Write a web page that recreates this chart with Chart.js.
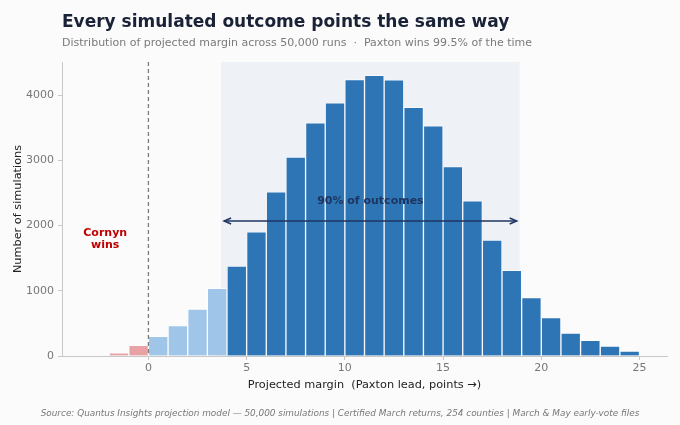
<!DOCTYPE html>
<html>
<head>
<meta charset="utf-8">
<script src="https://cdn.jsdelivr.net/npm/chart.js@4.4.1/dist/chart.umd.min.js"></script>
<style>
  html, body { margin: 0; padding: 0; background: #fbfbfb; }
  #wrap { width: 680px; height: 425px; position: relative; }
</style>
</head>
<body>
<div id="wrap"><canvas id="c" width="680" height="425"></canvas></div>
<script>
// ---- data ----
const binStarts = [-2,-1,0,1,2,3,4,5,6,7,8,9,10,11,12,13,14,15,16,17,18,19,20,21,22,23,24];
const binCounts = [50,164,302,466,720,1037,1379,1906,2519,3050,3577,3883,4240,4307,4236,3816,3531,2907,2381,1778,1313,895,588,352,240,153,77];
const xTickValues = [0,5,10,15,20,25];
const yTickValues = [0,1000,2000,3000,4000];
const p5 = 3.7, p95 = 18.9;
const bandLabel = '90% of outcomes';
const bandLabelY = 2370, bandArrowY = 2070;
const cornynLabel = ['Cornyn', 'wins'];
const cornynX = -2.2, cornynY = 1800;
const titleText = 'Every simulated outcome points the same way';
const subtitleText = 'Distribution of projected margin across 50,000 runs  \u00b7  Paxton wins 99.5% of the time';
const footerText = 'Source: Quantus Insights projection model \u2014 50,000 simulations | Certified March returns, 254 counties | March & May early-vote files';
const xTitle = 'Projected margin  (Paxton lead, points \u2192)';
const yTitle = 'Number of simulations';

const FONT = "'DejaVu Sans', sans-serif";
const C_DARK = '#2e75b6', C_LIGHT = '#9fc5e8', C_RED = '#e8a1a4';

const points = binStarts.map((s, i) => ({ x: s + 0.5, y: binCounts[i] }));
const colors = binStarts.map(s => s < 0 ? C_RED : (s < 4 ? C_LIGHT : C_DARK));

const overlay = {
  id: 'overlay',
  beforeDatasetsDraw(chart) {
    const { ctx, chartArea: a, scales: { x } } = chart;
    ctx.save();
    ctx.fillStyle = '#eef2f7';
    const l = x.getPixelForValue(p5), r = x.getPixelForValue(p95);
    ctx.fillRect(l, a.top, r - l, a.bottom - a.top);
    ctx.restore();
  },
  afterDatasetsDraw(chart) {
    const { ctx, chartArea: a, scales: { x, y } } = chart;
    ctx.save();
    const x0 = x.getPixelForValue(0);
    ctx.strokeStyle = '#7a7a7a';
    ctx.lineWidth = 1.3;
    ctx.setLineDash([4, 3]);
    ctx.beginPath(); ctx.moveTo(x0, a.top); ctx.lineTo(x0, a.bottom); ctx.stroke();
    ctx.setLineDash([]);
    const ay = y.getPixelForValue(bandArrowY);
    const l = x.getPixelForValue(p5) + 3, r = x.getPixelForValue(p95) - 3;
    ctx.strokeStyle = '#1f3561';
    ctx.lineWidth = 1.5;
    ctx.beginPath(); ctx.moveTo(l, ay); ctx.lineTo(r, ay); ctx.stroke();
    ctx.beginPath();
    ctx.moveTo(l + 7, ay - 3); ctx.lineTo(l, ay); ctx.lineTo(l + 7, ay + 3);
    ctx.moveTo(r - 7, ay - 3); ctx.lineTo(r, ay); ctx.lineTo(r - 7, ay + 3);
    ctx.stroke();
    ctx.fillStyle = '#1f3561';
    ctx.font = 'bold 11px ' + FONT;
    ctx.textAlign = 'center'; ctx.textBaseline = 'middle';
    ctx.fillText(bandLabel, x.getPixelForValue((p5 + p95) / 2), y.getPixelForValue(bandLabelY));
    ctx.fillStyle = '#c00000';
    const cx = x.getPixelForValue(cornynX), cy = y.getPixelForValue(cornynY);
    ctx.fillText(cornynLabel[0], cx, cy - 6);
    ctx.fillText(cornynLabel[1], cx, cy + 6);
    ctx.restore();
  },
  afterDraw(chart) {
    const { ctx } = chart;
    ctx.save();
    ctx.textBaseline = 'alphabetic';
    ctx.textAlign = 'left';
    ctx.fillStyle = '#1a2238';
    ctx.font = 'bold 17px ' + FONT;
    ctx.fillText(titleText, 62, 27);
    ctx.fillStyle = '#7a7a7a';
    ctx.font = '11px ' + FONT;
    ctx.fillText(subtitleText, 62, 46);
    ctx.textAlign = 'center';
    ctx.font = 'italic 8.9px ' + FONT;
    ctx.fillStyle = '#777';
    ctx.fillText(footerText, 340, 416);
    ctx.restore();
  }
};

new Chart(document.getElementById('c'), {
  type: 'bar',
  data: {
    datasets: [{
      data: points,
      backgroundColor: colors,
      borderColor: 'rgba(255,255,255,0.5)',
      borderWidth: 1,
      borderSkipped: 'bottom',
      barPercentage: 1.0,
      categoryPercentage: 1.0
    }]
  },
  options: {
    responsive: false,
    animation: false,
    devicePixelRatio: 1,
    layout: { padding: { left: 0, top: 62, right: 13, bottom: 24 } },
    plugins: { legend: { display: false }, tooltip: { enabled: false } },
    scales: {
      x: {
        type: 'linear',
        offset: false,
        min: -4.4, max: 26.4,
        afterBuildTicks(s) { s.ticks = xTickValues.map(v => ({ value: v })); },
        afterFit(s) { s.height = 45; },
        grid: { offset: false, drawOnChartArea: false, drawTicks: true, tickLength: 4, color: '#c8c8c8' },
        border: { display: true, color: '#c8c8c8', width: 1 },
        ticks: { color: '#777', font: { family: FONT, size: 11 }, padding: 2, maxRotation: 0, callback: v => String(v) },
        title: { display: true, text: xTitle, color: '#222', font: { family: FONT, size: 11.3 }, padding: { top: 2, bottom: 9 } }
      },
      y: {
        min: 0, max: 4510,
        afterBuildTicks(s) { s.ticks = yTickValues.map(v => ({ value: v })); },
        afterFit(s) { s.width = 62; },
        grid: { drawOnChartArea: false, drawTicks: true, tickLength: 4, color: '#c8c8c8' },
        border: { display: true, color: '#c8c8c8', width: 1 },
        ticks: { color: '#777', font: { family: FONT, size: 11 }, padding: 4, callback: v => String(v) },
        title: { display: true, text: yTitle, color: '#222', font: { family: FONT, size: 11.3 }, padding: { top: 11, bottom: 4 } }
      }
    }
  },
  plugins: [overlay]
});
</script>
</body>
</html>
